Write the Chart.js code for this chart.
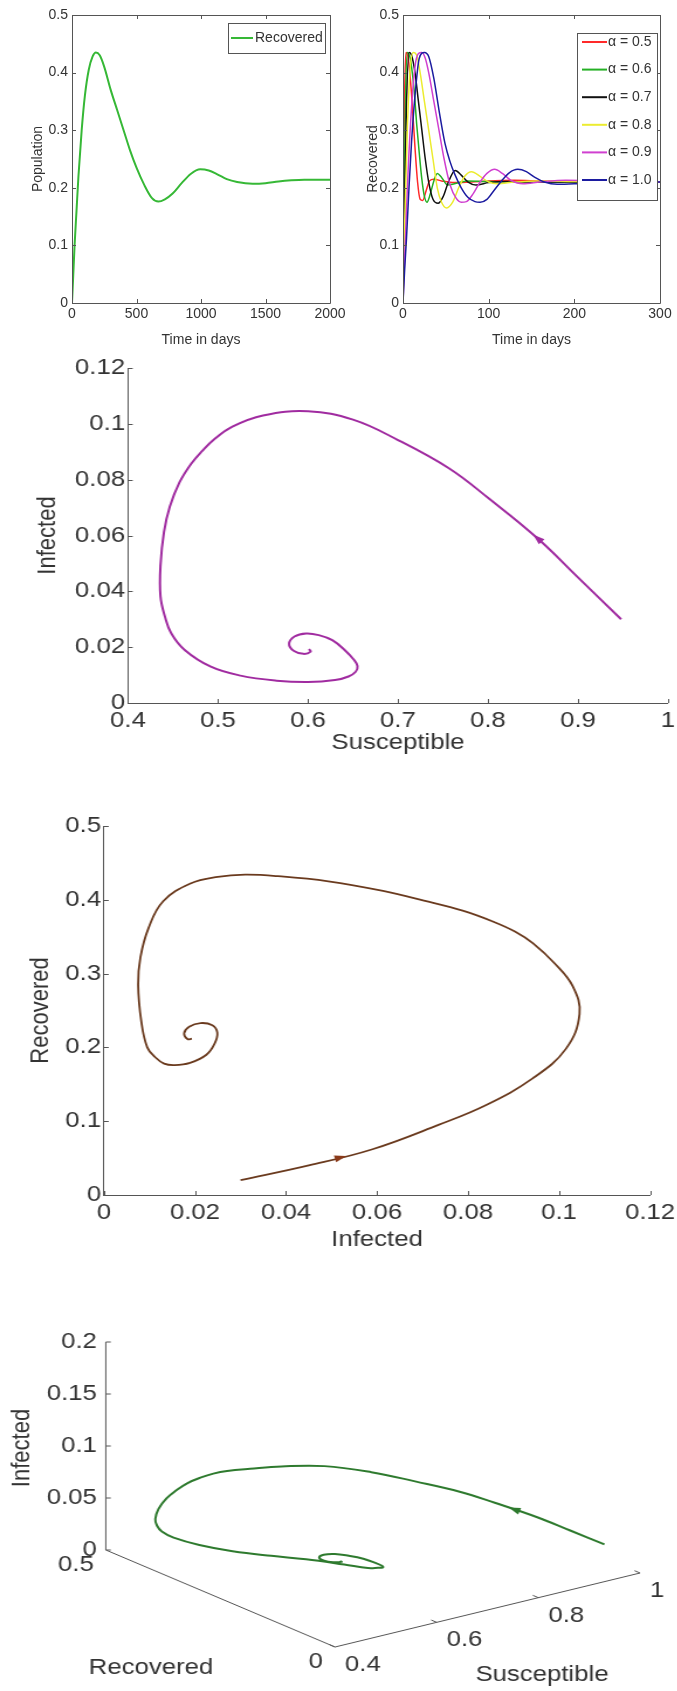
<!DOCTYPE html>
<html>
<head>
<meta charset="utf-8">
<script src="https://cdn.jsdelivr.net/npm/chart.js@4.4.1/dist/chart.umd.min.js"></script>
<style>
  html, body { margin: 0; padding: 0; background: #fff; }
  body { width: 677px; height: 1691px; position: relative; overflow: hidden; }
  .panel { position: absolute; }
  .panel canvas { display: block; }
  /* the phase portraits in the original are stretched sideways */
  .wide { transform: scaleX(1.17); transform-origin: 0 0; }
</style>
</head>
<body>
<div class="panel" style="left:0;top:0"><canvas id="c1" width="356" height="349"></canvas></div>
<div class="panel" style="left:340px;top:0"><canvas id="c2" width="337" height="349"></canvas></div>
<div class="panel wide" style="left:0;top:340px"><canvas id="c3" width="582" height="416"></canvas></div>
<div class="panel wide" style="left:0;top:790px"><canvas id="c4" width="582" height="463"></canvas></div>
<div class="panel wide" style="left:0;top:1280px"><canvas id="c5" width="582" height="411"></canvas></div>

<script>
// recovered population over time (top left)
let days      = [0, 10, 20, 35, 50, 75, 100, 130, 160, 185, 215, 250, 300, 350, 400, 450, 500, 560, 620, 670, 720, 780, 850, 920, 994, 1060, 1130, 1200, 1280, 1400, 1500, 1600, 1700, 1800, 1900, 2000];
let recovered = [0, 0.05, 0.1, 0.16, 0.22, 0.3, 0.36, 0.405, 0.428, 0.435, 0.43, 0.41, 0.37, 0.335, 0.3, 0.265, 0.235, 0.205, 0.182, 0.176, 0.18, 0.19, 0.208, 0.224, 0.232, 0.23, 0.223, 0.215, 0.21, 0.207, 0.208, 0.211, 0.213, 0.214, 0.214, 0.214];

// recovered for each fractional order alpha (top right)
let alphaLabels = ["α = 0.5", "α = 0.6", "α = 0.7", "α = 0.8", "α = 0.9", "α = 1.0"];

let tA05 = [0, 1, 2, 3.5, 5.5, 8, 11, 14, 17, 20, 23, 27, 31, 36, 45, 60, 80, 100, 130, 160, 200, 250, 300];
let rA05 = [0, 0.22, 0.37, 0.435, 0.43, 0.4, 0.34, 0.27, 0.21, 0.18, 0.178, 0.195, 0.212, 0.215, 0.212, 0.209, 0.21, 0.212, 0.213, 0.212, 0.211, 0.21, 0.21];

let tA06 = [0, 1.5, 3, 5, 7.5, 10, 13, 16, 19, 22, 25, 28, 32, 36, 40, 45, 52, 60, 75, 95, 130, 170, 220, 300];
let rA06 = [0, 0.2, 0.36, 0.435, 0.43, 0.41, 0.37, 0.31, 0.26, 0.215, 0.185, 0.175, 0.19, 0.212, 0.225, 0.218, 0.205, 0.207, 0.212, 0.211, 0.21, 0.21, 0.21, 0.21];

let tA07 = [0, 2, 4, 7, 10, 14, 18, 22, 26, 30, 35, 41, 47, 53, 61, 68, 76, 85, 100, 120, 150, 200, 300];
let rA07 = [0, 0.18, 0.34, 0.435, 0.43, 0.4, 0.35, 0.3, 0.25, 0.21, 0.18, 0.173, 0.185, 0.21, 0.23, 0.222, 0.21, 0.205, 0.209, 0.211, 0.21, 0.21, 0.21];

let tA08 = [0, 2, 5, 8, 12, 16, 20, 25, 30, 35, 40, 45, 51, 58, 65, 72, 80, 90, 100, 110, 130, 160, 200, 300];
let rA08 = [0, 0.14, 0.3, 0.4, 0.435, 0.43, 0.4, 0.35, 0.3, 0.25, 0.2, 0.175, 0.165, 0.175, 0.2, 0.22, 0.228, 0.22, 0.21, 0.207, 0.21, 0.212, 0.211, 0.21];

let tA09 = [0, 3, 6, 10, 14, 18, 22, 26, 30, 36, 42, 48, 55, 62, 68, 74, 82, 90, 98, 107, 116, 126, 140, 160, 190, 230, 300];
let rA09 = [0, 0.12, 0.23, 0.34, 0.41, 0.433, 0.435, 0.425, 0.4, 0.35, 0.3, 0.25, 0.205, 0.182, 0.175, 0.176, 0.19, 0.21, 0.225, 0.232, 0.225, 0.213, 0.207, 0.21, 0.213, 0.212, 0.21];

let tA10 = [0, 2, 4, 7, 10, 14, 19, 25, 30, 36, 42, 49, 55, 60, 68, 76, 84, 90, 98, 106, 115, 124, 134, 144, 154, 165, 180, 200, 230, 260, 300];
let rA10 = [0, 0.06, 0.11, 0.2, 0.28, 0.36, 0.425, 0.435, 0.428, 0.39, 0.335, 0.277, 0.245, 0.225, 0.2, 0.183, 0.176, 0.175, 0.18, 0.195, 0.212, 0.226, 0.232, 0.228, 0.218, 0.21, 0.206, 0.207, 0.21, 0.211, 0.21];

let alphaTimes  = [tA05, tA06, tA07, tA08, tA09, tA10];
let alphaValues = [rA05, rA06, rA07, rA08, rA09, rA10];

// one trajectory, shared by the three phase portraits
let susc = [0.948, 0.9, 0.855, 0.8, 0.757, 0.7, 0.65, 0.6, 0.55, 0.516, 0.4952, 0.4825, 0.4702, 0.4572, 0.4464, 0.44, 0.4361, 0.4361, 0.441, 0.448, 0.463, 0.492, 0.525, 0.565, 0.6,
            0.63, 0.645, 0.653, 0.655, 0.651, 0.641, 0.627, 0.612, 0.598, 0.585, 0.579, 0.584, 0.595, 0.603, 0.601];
let infc = [0.03, 0.045, 0.059, 0.0735, 0.084, 0.0942, 0.1015, 0.1045, 0.103, 0.099, 0.0943, 0.0903, 0.0857, 0.079, 0.0703, 0.0613, 0.0493, 0.0382, 0.031, 0.025, 0.019, 0.013, 0.0098, 0.008, 0.0075,
            0.0082, 0.0095, 0.0112, 0.0132, 0.0155, 0.0189, 0.0225, 0.0243, 0.0249, 0.0238, 0.0212, 0.0187, 0.0176, 0.0184, 0.0193];
let recv = [0.02, 0.04, 0.062, 0.095, 0.122, 0.158, 0.198, 0.245, 0.283, 0.314, 0.341, 0.357, 0.37, 0.385, 0.399, 0.412, 0.425, 0.432, 0.434, 0.431, 0.422, 0.398, 0.362, 0.322, 0.285,
            0.235, 0.2, 0.187, 0.178, 0.176, 0.179, 0.19, 0.205, 0.22, 0.23, 0.233, 0.228, 0.219, 0.211, 0.212];

// 3d box ticks
let infTicks  = [0, 0.05, 0.1, 0.15, 0.2];
let recTicks  = [0, 0.5];
let suscTicks = [0.4, 0.6, 0.8, 1];

const FONT = "'Liberation Sans', Arial, Helvetica, sans-serif";
const TEXT = "#333";
const AXIS = "#555";
const STRETCH = 1.17;

Chart.defaults.font.family = FONT;
Chart.defaults.color = TEXT;
Chart.defaults.plugins.legend.display = false;
Chart.defaults.plugins.tooltip.enabled = false;

let alphaColors = ["#ff2a2a", "#25b025", "#111111", "#ecec30", "#d040d0", "#1c1ca0"];

// plain numbers, no thousands separator or padded decimals
function fmt(v) {
  return String(Math.round(v * 1e6) / 1e6);
}

// inward ticks (and full box for the time plots), like matlab axes
const matlabAxes = {
  id: "matlabAxes",
  afterDraw(chart, args, opts) {
    const {ctx, chartArea: a, scales: {x, y}} = chart;
    const len = opts.len || 4;
    ctx.save();
    ctx.strokeStyle = AXIS;
    ctx.lineWidth = 1;
    ctx.beginPath();
    if (opts.box) ctx.rect(a.left + 0.5, a.top + 0.5, a.right - a.left, a.bottom - a.top);
    x.ticks.forEach(t => {
      let px = Math.round(x.getPixelForValue(t.value)) + 0.5;
      ctx.moveTo(px, a.bottom); ctx.lineTo(px, a.bottom - len);
      if (opts.box) { ctx.moveTo(px, a.top); ctx.lineTo(px, a.top + len); }
    });
    y.ticks.forEach(t => {
      let py = Math.round(y.getPixelForValue(t.value)) + 0.5;
      ctx.moveTo(a.left, py); ctx.lineTo(a.left + len, py);
      if (opts.box) { ctx.moveTo(a.right, py); ctx.lineTo(a.right - len, py); }
    });
    ctx.stroke();
    ctx.restore();
  }
};

// opaque legend box drawn inside the plot
const boxLegend = {
  id: "boxLegend",
  afterDraw(chart, args, opts) {
    if (!opts.display) return;
    const ctx = chart.ctx;
    ctx.save();
    ctx.fillStyle = "#fff";
    ctx.fillRect(opts.x, opts.y, opts.w, opts.h);
    ctx.strokeStyle = AXIS;
    ctx.lineWidth = 1;
    ctx.strokeRect(opts.x + 0.5, opts.y + 0.5, opts.w, opts.h);
    ctx.font = "14px " + FONT;
    ctx.textBaseline = "middle";
    chart.data.datasets.forEach((ds, i) => {
      let yy = opts.y + opts.first + i * opts.row;
      ctx.strokeStyle = ds.borderColor;
      ctx.lineWidth = 2;
      ctx.beginPath();
      ctx.moveTo(opts.x + opts.lineFrom, yy);
      ctx.lineTo(opts.x + opts.lineFrom + opts.lineLen, yy);
      ctx.stroke();
      ctx.fillStyle = TEXT;
      ctx.fillText(ds.label, opts.x + opts.textX, yy);
    });
    ctx.restore();
  }
};

// direction arrow on the trajectory, "at" is a (fractional) point index
const flowArrow = {
  id: "flowArrow",
  afterDatasetsDraw(chart, args, opts) {
    if (opts.at == null) return;
    const ctx = chart.ctx;
    const pts = chart.getDatasetMeta(0).data;
    let i = Math.floor(opts.at), f = opts.at - i;
    let a = pts[i], b = pts[i + 1];
    let x = a.x + (b.x - a.x) * f, y = a.y + (b.y - a.y) * f;
    ctx.save();
    ctx.translate(x, y);
    ctx.rotate(Math.atan2(b.y - a.y, b.x - a.x));
    ctx.beginPath();
    ctx.moveTo(5, 0); ctx.lineTo(-5, -3.5); ctx.lineTo(-5, 3.5); ctx.closePath();
    ctx.fillStyle = opts.color;
    ctx.fill();
    ctx.restore();
  }
};

function timeScales(o) {
  return {
    x: {
      type: "linear", min: 0, max: o.xMax,
      ticks: {stepSize: o.xStep, padding: 3, font: {size: 14}, maxRotation: 0, autoSkip: false, callback: fmt},
      grid: {display: false, drawTicks: false},
      border: {display: false},
      title: {display: true, text: "Time in days", font: {size: 14}, padding: 0},
      afterFit: s => { s.height = o.xH; }
    },
    y: {
      type: "linear", min: 0, max: 0.5,
      ticks: {stepSize: 0.1, padding: 4, font: {size: 14}, callback: fmt},
      grid: {display: false, drawTicks: false},
      border: {display: false},
      title: {display: true, text: o.yTitle, font: {size: 14}, padding: 0},
      afterFit: s => { s.width = o.yW; }
    }
  };
}

function phaseScales(o) {
  return {
    x: {
      type: "linear", min: o.xMin, max: o.xMax,
      ticks: {stepSize: o.xStep, padding: 5, font: {size: 22}, maxRotation: 0, autoSkip: false, callback: fmt},
      grid: {display: false, drawTicks: false},
      border: {display: true, color: AXIS},
      title: {display: true, text: o.xTitle, font: {size: 22}, padding: 0},
      afterFit: s => { s.height = o.xH; }
    },
    y: {
      type: "linear", min: o.yMin, max: o.yMax,
      ticks: {stepSize: o.yStep, padding: 2.5, font: {size: 22}, callback: fmt},
      grid: {display: false, drawTicks: false},
      border: {display: true, color: AXIS},
      title: {display: true, text: o.yTitle, font: {size: 22}, padding: 0},
      afterFit: s => { s.width = o.yW; }
    }
  };
}

const base = {responsive: false, animation: false, devicePixelRatio: 1, events: []};

// top left
new Chart(document.getElementById("c1"), {
  type: "scatter",
  data: {
    datasets: [{
      label: "Recovered",
      data: days.map((t, k) => ({x: t, y: recovered[k]})),
      showLine: true, borderColor: "#36b836", borderWidth: 2, pointRadius: 0,
      cubicInterpolationMode: "monotone"
    }]
  },
  options: Object.assign({}, base, {
    layout: {padding: {left: 29.6, right: 26, top: 15, bottom: 0}},
    scales: timeScales({xMax: 2000, xStep: 500, yTitle: "Population", yW: 42.4, xH: 46}),
    plugins: {
      matlabAxes: {box: true},
      boxLegend: {display: true, x: 228, y: 23, w: 97, h: 30, first: 15, row: 0, lineFrom: 3, lineLen: 22, textX: 27}
    }
  }),
  plugins: [matlabAxes, boxLegend]
});

// top right
new Chart(document.getElementById("c2"), {
  type: "scatter",
  data: {
    datasets: alphaLabels.map((lab, i) => ({
      label: lab,
      data: alphaTimes[i].map((t, k) => ({x: t, y: alphaValues[i][k]})),
      showLine: true, borderColor: alphaColors[i], borderWidth: 1.5, pointRadius: 0,
      cubicInterpolationMode: "monotone",
      order: alphaLabels.length - 1 - i
    }))
  },
  options: Object.assign({}, base, {
    layout: {padding: {left: 24.6, right: 17, top: 15, bottom: 0}},
    scales: timeScales({xMax: 300, xStep: 100, yTitle: "Recovered", yW: 38.4, xH: 46}),
    plugins: {
      matlabAxes: {box: true},
      boxLegend: {display: true, x: 237, y: 33, w: 80, h: 167, first: 9, row: 27.6, lineFrom: 5, lineLen: 25, textX: 31}
    }
  }),
  plugins: [matlabAxes, boxLegend]
});

// susceptible vs infected
new Chart(document.getElementById("c3"), {
  type: "scatter",
  data: {
    datasets: [{
      data: susc.map((s, k) => ({x: s, y: infc[k]})),
      showLine: true, borderColor: "#a02ba0", borderWidth: 2, pointRadius: 0, tension: 0.4
    }]
  },
  options: Object.assign({}, base, {
    layout: {padding: {left: 27.4, right: 11.1, top: 28, bottom: 0}},
    scales: phaseScales({xMin: 0.4, xMax: 1, xStep: 0.1, yMin: 0, yMax: 0.12, yStep: 0.02,
      xTitle: "Susceptible", yTitle: "Infected", yW: 82, xH: 53}),
    plugins: {matlabAxes: {box: false, len: 4}, flowArrow: {at: 2, color: "#a02ba0"}}
  }),
  plugins: [matlabAxes, flowArrow]
});

// infected vs recovered
new Chart(document.getElementById("c4"), {
  type: "scatter",
  data: {
    datasets: [{
      data: infc.map((v, k) => ({x: v, y: recv[k]})),
      showLine: true, borderColor: "#6a3a1e", borderWidth: 1.8, pointRadius: 0, tension: 0.4
    }]
  },
  options: Object.assign({}, base, {
    layout: {padding: {left: 21.8, right: 23, top: 36, bottom: 0}},
    scales: phaseScales({xMin: 0, xMax: 0.12, xStep: 0.02, yMin: 0, yMax: 0.5, yStep: 0.1,
      xTitle: "Infected", yTitle: "Recovered", yW: 67.1, xH: 58}),
    plugins: {matlabAxes: {box: false, len: 4}, flowArrow: {at: 1.5, color: "#8a3a1a"}}
  }),
  plugins: [matlabAxes, flowArrow]
});

// 3d view (S, R, I), projected onto the page
const origin3d = {x: 335, y: 1647};      // S = 0.4, R = 0, I = 0
const sVec = {x: 305, y: -74};           // S 0.4 -> 1
const rVec = {x: -229.2, y: -97};        // R 0 -> 0.5
const iVec = {x: 0, y: -208};            // I 0 -> 0.2

function project(s, r, i) {
  let a = (s - 0.4) / 0.6, b = r / 0.5, c = i / 0.2;
  return {
    x: origin3d.x + a * sVec.x + b * rVec.x + c * iVec.x,
    y: origin3d.y + a * sVec.y + b * rVec.y + c * iVec.y
  };
}

const axes3d = {
  id: "axes3d",
  afterDraw(chart) {
    const {ctx, scales: {x, y}} = chart;
    const px = v => x.getPixelForValue(v);
    const py = v => y.getPixelForValue(v);
    ctx.save();
    ctx.strokeStyle = AXIS;
    ctx.lineWidth = 1;
    ctx.fillStyle = TEXT;
    ctx.font = "22px " + FONT;

    ctx.textAlign = "right";
    ctx.textBaseline = "middle";
    infTicks.forEach(v => {
      let p = project(0.4, 0.5, v);
      ctx.beginPath(); ctx.moveTo(px(p.x), py(p.y)); ctx.lineTo(px(p.x + 5), py(p.y)); ctx.stroke();
      ctx.fillText(fmt(v), px(p.x - 9), py(p.y));
    });
    recTicks.forEach(v => {
      let p = project(0.4, v, 0);
      ctx.fillText(fmt(v), px(p.x - 12), py(p.y + 15));
    });
    ctx.textAlign = "left";
    suscTicks.forEach(v => {
      let p = project(v, 0, 0);
      let q = project(v, 0.012, 0);
      ctx.beginPath(); ctx.moveTo(px(p.x), py(p.y)); ctx.lineTo(px(q.x), py(q.y)); ctx.stroke();
      ctx.fillText(fmt(v), px(p.x + 10), py(p.y + 18));
    });

    ctx.textAlign = "center";
    ctx.fillText("Recovered", px(151), py(1668));
    ctx.fillText("Susceptible", px(542), py(1675));
    ctx.translate(px(21.6), py(1448));
    ctx.rotate(-Math.PI / 2);
    ctx.fillText("Infected", 0, 0);
    ctx.restore();
  }
};

let traj3d = susc.map((s, k) => project(s, recv[k], infc[k]));
let axisLine = pts => ({data: pts, showLine: true, borderColor: AXIS, borderWidth: 1, pointRadius: 0, tension: 0});

new Chart(document.getElementById("c5"), {
  type: "scatter",
  data: {
    datasets: [
      {data: traj3d, showLine: true, borderColor: "#2e7a2e", borderWidth: 2, pointRadius: 0, tension: 0.4},
      axisLine([project(0.4, 0.5, 0), project(0.4, 0.5, 0.2)]),
      axisLine([project(0.4, 0.5, 0), project(0.4, 0, 0)]),
      axisLine([project(0.4, 0, 0), project(1, 0, 0)])
    ]
  },
  options: Object.assign({}, base, {
    layout: {padding: 0},
    scales: {
      x: {type: "linear", min: 0, max: 582 * STRETCH, display: false},
      y: {type: "linear", min: 1280, max: 1691, reverse: true, display: false}
    },
    plugins: {flowArrow: {at: 2.55, color: "#2e7a2e"}}
  }),
  plugins: [axes3d, flowArrow]
});
</script>
</body>
</html>
